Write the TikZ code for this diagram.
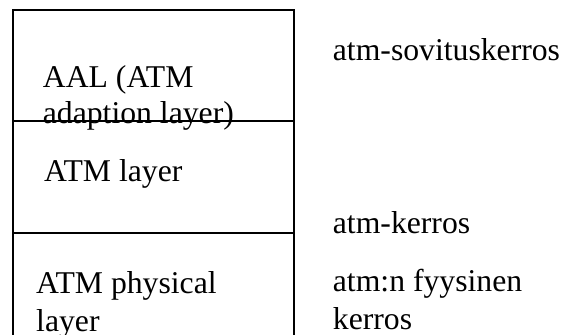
\documentclass[tikz,border=0pt]{standalone}
\usepackage{fontspec}
\setmainfont{Liberation Serif}
\begin{document}
\begin{tikzpicture}[x=1pt,y=-1pt,
  boxline/.style={line width=1.8pt,black},
  lbl/.style={anchor=base west,inner sep=0pt,font=\fontsize{31.7}{38}\selectfont}]
\useasboundingbox (0,0) rectangle (563,335);
% frame
\draw[boxline] (12.7,335) -- (12.7,10) -- (293.7,10) -- (293.7,335);
\draw[boxline] (12.7,121) -- (293.7,121);
\draw[boxline] (12.7,233) -- (293.7,233);
% left texts
\node[lbl] (aal1) at (42.7,87.3) {AAL (ATM};
\node[lbl] (aal2) at (42.7,123) {adaption layer)};
\node[lbl] (atm) at (44,181) {ATM layer};
\node[lbl] (phy1) at (36,293.3) {ATM physical};
\node[lbl] (phy2) at (36,331.5) {layer};
% right texts
\node[lbl] (r1) at (332.7,60.5) {atm-sovituskerros};
\node[lbl] (r2) at (332.7,233) {atm-kerros};
\node[lbl] (r3) at (332.7,291.7) {atm:n fyysinen};
\node[lbl] (r4) at (332.7,329) {kerros};
\end{tikzpicture}
\end{document}
